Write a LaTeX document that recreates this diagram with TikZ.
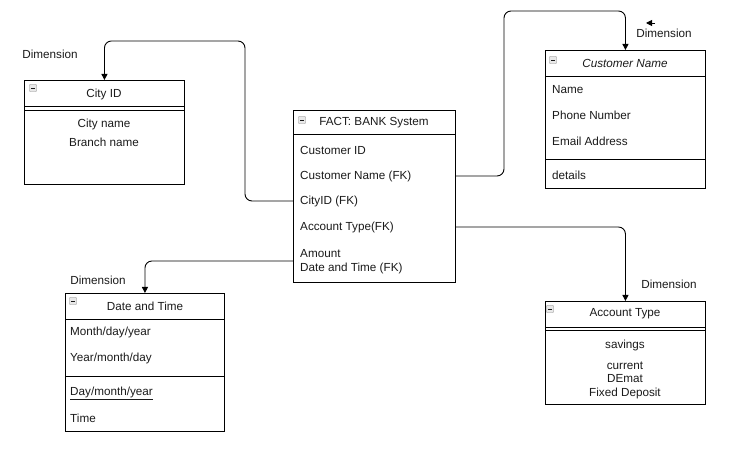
\documentclass[tikz,border=0pt]{standalone}
\usepackage{fontspec}
\setmainfont{Liberation Sans}
\usepackage{xcolor}
\usetikzlibrary{arrows.meta}
\definecolor{ERText}{HTML}{1A1A1A}
\definecolor{ERIcon}{HTML}{E8E8E8}
\definecolor{ERIconLine}{HTML}{808080}

\begin{document}
\begin{tikzpicture}[x=1pt,y=-1pt,
  tbl/.style={draw,line width=0.9pt,anchor=north west,inner sep=0pt},
  txt/.style={inner sep=0pt,text=ERText,font=\fontsize{11.7}{14}\selectfont},
  fld/.style={txt,anchor=west},
  icon/.style={draw=ERIconLine,fill=ERIcon,rounded corners=0.6pt,minimum size=7pt,inner sep=0pt,
    path picture={\draw[ERText,line width=0.7pt] ([xshift=1.5pt]path picture bounding box.west) -- ([xshift=-1.5pt]path picture bounding box.east);}},
  link/.style={line width=0.9pt,rounded corners=7pt,-{Triangle[length=6pt,width=6pt]}}]
\path[use as bounding box] (0,0) rectangle (756,465);
% tables
\node[tbl,minimum width=160pt,minimum height=104pt] (city) at (24,80) {};
\node[tbl,minimum width=162pt,minimum height=172pt] (fact) at (293,110) {};
\node[tbl,minimum width=160pt,minimum height=138pt] (cust) at (545,50) {};
\node[tbl,minimum width=160pt,minimum height=103pt] (acct) at (545,301) {};
\node[tbl,minimum width=159pt,minimum height=138pt] (date) at (65,293) {};
\draw[line width=0.9pt] ([yshift=-26pt]city.north west) -- ([yshift=-26pt]city.north east);
\draw[line width=0.9pt] ([yshift=-30pt]city.north west) -- ([yshift=-30pt]city.north east);
\draw[line width=0.9pt] ([yshift=-24pt]fact.north west) -- ([yshift=-24pt]fact.north east);
\draw[line width=0.9pt] ([yshift=-26pt]cust.north west) -- ([yshift=-26pt]cust.north east);
\draw[line width=0.9pt] ([yshift=-109pt]cust.north west) -- ([yshift=-109pt]cust.north east);
\draw[line width=0.9pt] ([yshift=-26pt]acct.north west) -- ([yshift=-26pt]acct.north east);
\draw[line width=0.9pt] ([yshift=-29pt]acct.north west) -- ([yshift=-29pt]acct.north east);
\draw[line width=0.9pt] ([yshift=-26pt]date.north west) -- ([yshift=-26pt]date.north east);
\draw[line width=0.9pt] ([yshift=-83pt]date.north west) -- ([yshift=-83pt]date.north east);
% collapse icons
\node[icon] (cityicon) at (33,88) {};
\node[icon] (facticon) at (302,120) {};
\node[icon] (custicon) at (553,60) {};
\node[icon] (accticon) at (550,309) {};
\node[icon] (dateicon) at (73,301) {};
% City ID
\node[txt] (cityhead) at (104,94) {City ID};
\node[txt] (cityname) at (104,124) {City name};
\node[txt] (citybranch) at (104,142) {Branch name};
% FACT
\node[txt] (facthead) at (374,123) {FACT: BANK System};
\node[fld] (fid) at (300,150) {Customer ID};
\node[fld] (fcust) at (300,176) {Customer Name (FK)};
\node[fld] (fcity) at (300,201) {CityID (FK)};
\node[fld] (facct) at (300,227) {Account Type(FK)};
\node[fld] (famount) at (300,254) {Amount};
\node[fld] (fdatetime) at (300,268) {Date and Time (FK)};
\coordinate (fdate) at (293,261);
% Customer Name
\node[txt] (custhead) at (625,63) {\itshape Customer Name};
\node[fld] (cname) at (552,90) {Name};
\node[fld] (cphone) at (552,115) {Phone Number};
\node[fld] (cmail) at (552,141) {Email Address};
\node[fld] (cdetails) at (552,175) {details};
% Account Type
\node[txt] (accthead) at (625,314) {Account Type};
\node[txt] (asav) at (625,345) {savings};
\node[txt] (acur) at (625,366) {current};
\node[txt] (adem) at (625,379) {DEmat};
\node[txt] (afix) at (625,393) {Fixed Deposit};
% Date and Time
\node[txt] (datehead) at (145,306) {Date and Time};
\node[fld] (dmdy) at (70,332) {Month/day/year};
\node[fld] (dymd) at (70,358) {Year/month/day};
\node[fld] (ddmy) at (70,393) {\underline{Day/month/year}};
\node[fld] (dtime) at (70,418) {Time};
% labels
\node[txt] (citydim) at (50,54) {Dimension};
\node[txt] (custdim) at (664,33) {Dimension};
\node[txt] (acctdim) at (669,284) {Dimension};
\node[txt] (datedim) at (98,280) {Dimension};
% connectors
\coordinate (cityturn) at (245,41);
\coordinate (custturn) at (504,11);
\coordinate (dimtail) at (655,23);
\draw[link] (fact.west |- fcity) -| (cityturn) -| (city.north);
\draw[link] (fact.east |- fcust) -| (custturn) -| (cust.north);
\draw[link] (fact.east |- facct) -| (acct.north);
\draw[link] (fdate) -| (date.north);
\draw[link] (dimtail) -- ++(-9,0);
\end{tikzpicture}
\end{document}
